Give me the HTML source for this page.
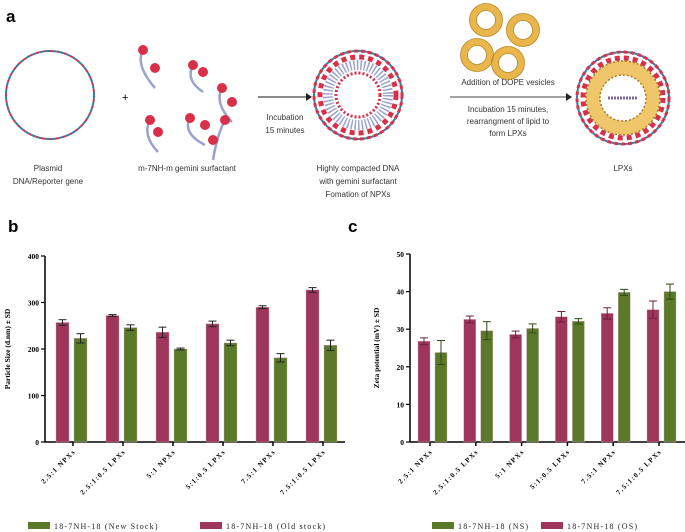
<!DOCTYPE html>
<html><head><meta charset="utf-8"><style>
body{margin:0;background:#fff;width:685px;height:532px;overflow:hidden}
svg{display:block;font-family:"Liberation Serif",serif}
.sans{font-family:"Liberation Sans",sans-serif}
</style></head><body>
<svg id="fig" width="685" height="532" viewBox="0 0 685 532">
<g id="diagram" class="sans">
<text x="6" y="22" font-size="17" font-weight="bold">a</text>
<circle cx="50" cy="95" r="44" fill="none" stroke="#2a7fa8" stroke-width="2" stroke-dasharray="4 3"/>
<circle cx="50" cy="95" r="44" fill="none" stroke="#d9304a" stroke-width="2" stroke-dasharray="3 4" stroke-dashoffset="3"/>
<text x="122" y="101" font-size="11">+</text>
<g id="surf"></g>
<line x1="258" y1="97" x2="306" y2="97" stroke="#666" stroke-width="1.5"/>
<polygon points="306,93 312,97 306,101" fill="#222"/>
<text x="285" y="120" font-size="8" text-anchor="middle" fill="#333">Incubation</text>
<text x="285" y="133" font-size="8" text-anchor="middle" fill="#333">15 minutes</text>
<g>
<circle cx="358" cy="95" r="44" fill="none" stroke="#d9304a" stroke-width="3" stroke-dasharray="4 3"/>
<circle cx="358" cy="95" r="44" fill="none" stroke="#2a7fa8" stroke-width="2" stroke-dasharray="3 4" stroke-dashoffset="3"/>
<circle cx="358" cy="95" r="38" fill="none" stroke="#d9304a" stroke-width="5" stroke-dasharray="5 4"/>
<circle cx="358" cy="95" r="30" fill="none" stroke="#9aa3cc" stroke-width="10" stroke-dasharray="1.5 2"/>
<circle cx="358" cy="95" r="22" fill="none" stroke="#d9304a" stroke-width="3" stroke-dasharray="2 2"/>
</g>
<line x1="450" y1="97" x2="566" y2="97" stroke="#444" stroke-width="1"/>
<polygon points="566,93 572,97 566,101" fill="#222"/>
<text x="508" y="85" font-size="8" text-anchor="middle" fill="#333">Addition of DOPE vesicles</text>
<text x="508" y="112" font-size="8" text-anchor="middle" fill="#333">Incubation 15 minutes,</text>
<text x="508" y="124" font-size="8" text-anchor="middle" fill="#333">rearrangment of lipid to</text>
<text x="508" y="136" font-size="8" text-anchor="middle" fill="#333">form LPXs</text>
<g fill="none" stroke="#e8b64a" stroke-width="7">
<circle cx="486" cy="20" r="13"/><circle cx="523" cy="30" r="13"/><circle cx="477" cy="55" r="13"/><circle cx="508" cy="63" r="13"/>
</g>
<g fill="none" stroke="#b8882a" stroke-width="0.8">
<circle cx="486" cy="20" r="16.5"/><circle cx="523" cy="30" r="16.5"/><circle cx="477" cy="55" r="16.5"/><circle cx="508" cy="63" r="16.5"/>
<circle cx="486" cy="20" r="9.5"/><circle cx="523" cy="30" r="9.5"/><circle cx="477" cy="55" r="9.5"/><circle cx="508" cy="63" r="9.5"/>
</g>
<g>
<circle cx="623" cy="98" r="46" fill="none" stroke="#d9304a" stroke-width="3" stroke-dasharray="4 3"/>
<circle cx="623" cy="98" r="46" fill="none" stroke="#2a7fa8" stroke-width="2" stroke-dasharray="3 4" stroke-dashoffset="3"/>
<circle cx="623" cy="98" r="40" fill="none" stroke="#d9304a" stroke-width="5" stroke-dasharray="5 4"/>
<circle cx="623" cy="98" r="30" fill="none" stroke="#efc66a" stroke-width="14"/>
<circle cx="623" cy="98" r="37" fill="none" stroke="#a8782a" stroke-width="1.5" stroke-dasharray="2 2"/>
<circle cx="623" cy="98" r="23" fill="none" stroke="#a8782a" stroke-width="1.5" stroke-dasharray="2 2"/>
<line x1="608" y1="98" x2="638" y2="98" stroke="#7a6aa0" stroke-width="3" stroke-dasharray="2 1"/>
</g>
<text x="48" y="171" font-size="8" text-anchor="middle" fill="#333">Plasmid</text>
<text x="48" y="184" font-size="8" text-anchor="middle" fill="#333">DNA/Reporter gene</text>
<text x="187" y="171" font-size="8" text-anchor="middle" fill="#333">m-7NH-m  gemini surfactant</text>
<text x="358" y="171" font-size="8" text-anchor="middle" fill="#333">Highly compacted DNA</text>
<text x="358" y="184" font-size="8" text-anchor="middle" fill="#333">with gemini surfactant</text>
<text x="358" y="197" font-size="8" text-anchor="middle" fill="#333">Fomation of NPXs</text>
<text x="623" y="171" font-size="8" text-anchor="middle" fill="#333">LPXs</text>
</g>
<g id="chartB"></g>
<g id="chartC"></g>
</svg>
<script>
const categories = ["2.5:1 NPXs","2.5:1:0.5 LPXs","5:1 NPXs","5:1:0.5 LPXs","7.5:1 NPXs","7.5:1:0.5 LPXs"];
const sizeOld = [257,272,236,254,290,327];
const sizeOldErr = [6,2,11,6,3,5];
const sizeNew = [223,246,200,213,181,208];
const sizeNewErr = [10,6,2,6,9,11];
const sizeTicks = [0,100,200,300,400];
const zetaOS = [26.8,32.6,28.6,33.3,34.2,35.2];
const zetaOSErr = [0.9,0.9,0.9,1.4,1.5,2.3];
const zetaNS = [23.8,29.6,30.2,32.1,39.8,40.0];
const zetaNSErr = [3.2,2.4,1.2,0.7,0.8,2.0];
const zetaTicks = [0,10,20,30,40,50];

const NS="http://www.w3.org/2000/svg";
function mk(p,t,a){const e=document.createElementNS(NS,t);for(const k in a)e.setAttribute(k,a[k]);p.appendChild(e);return e;}
const RED="#9e365c", GREEN="#5a7a2a", REDE="#6a1f3c", GREENE="#2e4a12";

const sg=document.getElementById('surf');
[[143,50,155,68],[193,65,203,72],[222,88,232,102],[150,120,158,132],[190,118,205,125],[225,120,213,140]].forEach(s=>{
  const p=mk(sg,'path',{d:`M${s[0]} ${s[1]} q${-8} 15 ${s[2]-s[0]} ${s[3]-s[1]+20}`,stroke:'#9aa3cc','stroke-width':2.5,fill:'none'});
  
  
  mk(sg,'circle',{cx:s[0],cy:s[1],r:5,fill:'#d9304a'});
  mk(sg,'circle',{cx:s[2],cy:s[3],r:5,fill:'#d9304a'});
});

function drawChart(g,o){
  const y=v=>o.y0-(v-o.vmin)/(o.vmax-o.vmin)*(o.y0-o.y1);
  const t=mk(g,'text',{x:o.px,y:232,'font-size':17,'font-weight':'bold','font-family':'Liberation Sans, sans-serif'});t.textContent=o.label;
  
  
  const ax=mk(g,'line',{x1:o.ax,y1:o.y1,x2:o.ax,y2:o.y0,stroke:'#000','stroke-width':1.5});
  
  
  const xa=mk(g,'line',{x1:o.ax,y1:o.y0,x2:o.xend,y2:o.y0,stroke:'#000','stroke-width':1.5});
  
  
  o.ticks.forEach(v=>{
    mk(g,'line',{x1:o.ax-4,y1:y(v),x2:o.ax,y2:y(v),stroke:'#000','stroke-width':1.2});
    const tl=mk(g,'text',{x:o.ax-6,y:y(v)+3,'font-size':7.5,'font-weight':'bold','text-anchor':'end'});tl.textContent=v;
    
    
  });
  const yt=mk(g,'text',{x:0,y:0,'font-size':7.5,'font-weight':'bold','text-anchor':'middle',transform:`translate(${o.tx},${(o.y0+o.y1)/2}) rotate(-90)`});
  yt.textContent=o.ytitle;
  
  
  categories.forEach((c,i)=>{
    const cx=o.c0+i*o.step;
    mk(g,'line',{x1:cx,y1:o.y0,x2:cx,y2:o.y0+4,stroke:'#000','stroke-width':1.5});
    const cl=mk(g,'text',{x:0,y:0,'font-size':7,'font-weight':'bold','text-anchor':'end','letter-spacing':'1.2',transform:`translate(${cx+3},${o.y0+10}) rotate(-45)`});
    cl.textContent=c;
    
    
    o.series.forEach((s,j)=>{
      const bx=cx+o.offs[j], v=s.vals[i], e=s.err[i];
      const r=mk(g,'rect',{x:bx,y:y(v),width:o.bw,height:o.y0-y(v),fill:s.color,stroke:'#c9a0b0','stroke-width':0.4});
      
      
      const mx=bx+o.bw/2;
      mk(g,'line',{x1:mx,y1:y(v+e),x2:mx,y2:y(v-e),stroke:s.ecol,'stroke-width':1});
      mk(g,'line',{x1:mx-4,y1:y(v+e),x2:mx+4,y2:y(v+e),stroke:s.ecol,'stroke-width':1});
      mk(g,'line',{x1:mx-4,y1:y(v-e),x2:mx+4,y2:y(v-e),stroke:s.ecol,'stroke-width':1});
    });
  });
  o.legend.forEach(l=>{
    const b=mk(g,'rect',{x:l.x,y:522,width:22,height:7,fill:l.color});
    
    
    const lt=mk(g,'text',{x:l.x+26,y:529,'font-size':8,'letter-spacing':'1.2',fill:'#222'});lt.textContent=l.text;
    
    
  });
}
drawChart(document.getElementById('chartB'),{label:'b',px:8,ax:45,xend:345,y0:442,y1:256,vmin:0,vmax:400,ticks:sizeTicks,tx:10,
  ytitle:'Particle Size (d.nm) ± SD',c0:73,step:50,bw:13,offs:[-17,1],
  series:[{key:'old',vals:sizeOld,err:sizeOldErr,color:RED,ecol:'#222'},{key:'new',vals:sizeNew,err:sizeNewErr,color:GREEN,ecol:'#222'}],
  legend:[{x:28,color:GREEN,text:'18-7NH-18 (New Stock)'},{x:200,color:RED,text:'18-7NH-18 (Old stock)'}]});
drawChart(document.getElementById('chartC'),{label:'c',px:348,ax:410,xend:685,y0:442,y1:254,vmin:0,vmax:50,ticks:zetaTicks,tx:379,
  ytitle:'Zeta potential (mV) ± SD',c0:430,step:45.8,bw:12,offs:[-12,5],
  series:[{key:'os',vals:zetaOS,err:zetaOSErr,color:RED,ecol:REDE},{key:'ns',vals:zetaNS,err:zetaNSErr,color:GREEN,ecol:GREENE}],
  legend:[{x:432,color:GREEN,text:'18-7NH-18 (NS)'},{x:541,color:RED,text:'18-7NH-18 (OS)'}]});
</script>
</body></html>
